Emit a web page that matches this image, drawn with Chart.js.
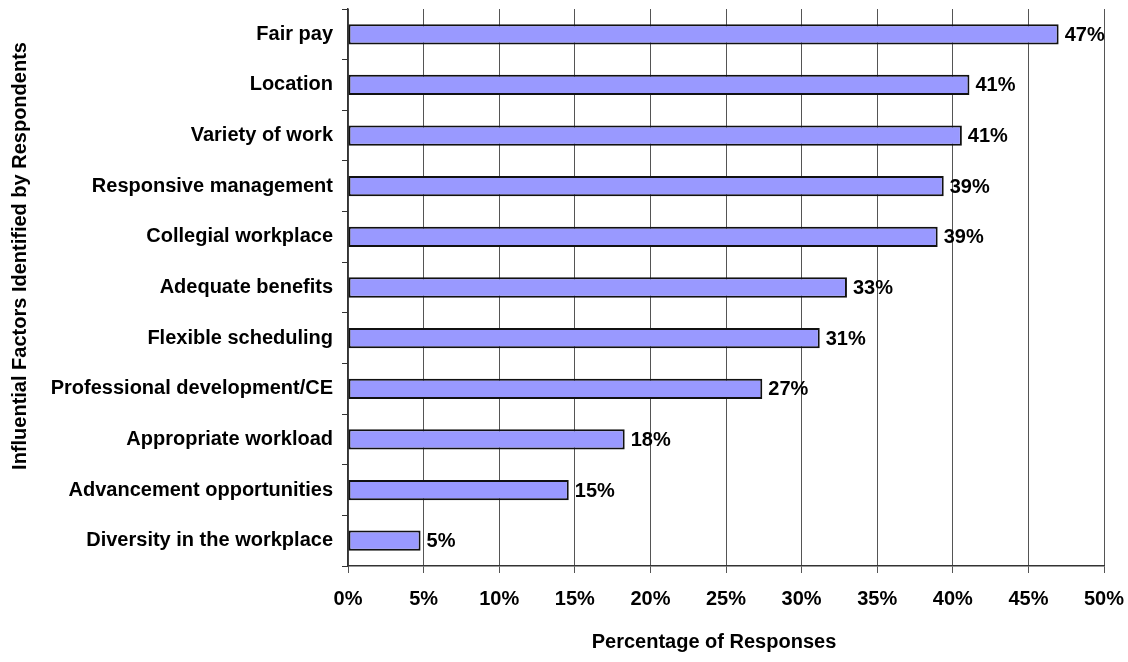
<!DOCTYPE html>
<html>
<head>
<meta charset="utf-8">
<script src="https://cdn.jsdelivr.net/npm/chart.js@4.4.1/dist/chart.umd.min.js"></script>
<style>
  html, body { margin: 0; padding: 0; background: #ffffff; }
  #wrap { width: 1128px; height: 662px; position: relative; }
</style>
</head>
<body>
<div id="wrap"><canvas id="c" width="1128" height="662"></canvas></div>
<script>
const categories = [
  "Fair pay",
  "Location",
  "Variety of work",
  "Responsive management",
  "Collegial workplace",
  "Adequate benefits",
  "Flexible scheduling",
  "Professional development/CE",
  "Appropriate workload",
  "Advancement opportunities",
  "Diversity in the workplace"
];
const responses = [47.0, 41.1, 40.6, 39.4, 39.0, 33.0, 31.2, 27.4, 18.3, 14.6, 4.8];
const xTickValues = [0, 5, 10, 15, 20, 25, 30, 35, 40, 45, 50];
const xTitle = "Percentage of Responses";
const yTitle = "Influential Factors Identified by Respondents";

const FONT = "'Liberation Sans', Arial, Helvetica, sans-serif";
const FS = 20;

const labelsPlugin = {
  id: 'valueLabels',
  afterDatasetsDraw(chart) {
    const ctx = chart.ctx;
    const meta = chart.getDatasetMeta(0);
    ctx.save();
    ctx.font = 'bold ' + FS + 'px ' + FONT;
    ctx.fillStyle = '#000';
    ctx.textAlign = 'left';
    ctx.textBaseline = 'middle';
    meta.data.forEach((bar, i) => {
      const v = chart.data.datasets[0].data[i];
      ctx.fillText(Math.round(v) + '%', bar.x + 6, bar.y + 1);
    });
    ctx.restore();
  },
  afterDraw(chart) {
    const ctx = chart.ctx;
    ctx.save();
    ctx.font = 'bold ' + FS + 'px ' + FONT;
    ctx.fillStyle = '#000';
    ctx.textAlign = 'center';
    ctx.textBaseline = 'middle';
    ctx.fillText(xTitle, 714, 642);
    ctx.translate(20, 256);
    ctx.rotate(-Math.PI / 2);
    ctx.fillText(yTitle, 0, 0);
    ctx.restore();
  }
};

new Chart(document.getElementById('c'), {
  type: 'bar',
  data: {
    labels: categories,
    datasets: [{
      data: responses,
      backgroundColor: '#9999FF',
      borderColor: '#111111',
      borderWidth: 2,
      borderSkipped: false,
      categoryPercentage: 1.0,
      barPercentage: 0.4
    }]
  },
  options: {
    indexAxis: 'y',
    responsive: false,
    animation: false,
    devicePixelRatio: 1,
    layout: { padding: { top: 9, right: 24, left: 0, bottom: 0 } },
    plugins: { legend: { display: false }, tooltip: { enabled: false } },
    scales: {
      x: {
        type: 'linear',
        min: 0,
        max: 50,
        afterBuildTicks(scale) { scale.ticks = xTickValues.map(v => ({ value: v })); },
        afterFit(scale) { scale.height = 96; scale.paddingLeft = 0; scale.paddingRight = 0; },
        ticks: {
          callback: v => v + '%',
          color: '#000',
          font: { family: FONT, size: FS, weight: 'bold' },
          padding: 14,
          maxRotation: 0
        },
        grid: { color: '#555555', lineWidth: 1, tickLength: 7 },
        border: { color: '#333333', width: 1.5 }
      },
      y: {
        afterFit(scale) { scale.width = 348; scale.paddingTop = 0; scale.paddingBottom = 0; },
        ticks: {
          color: '#000',
          font: { family: FONT, size: FS, weight: 'bold' },
          padding: 9
        },
        grid: { drawOnChartArea: false, color: '#333333', tickLength: 6, offset: true },
        border: { color: '#333333', width: 1.5 }
      }
    }
  },
  plugins: [labelsPlugin]
});
</script>
</body>
</html>
